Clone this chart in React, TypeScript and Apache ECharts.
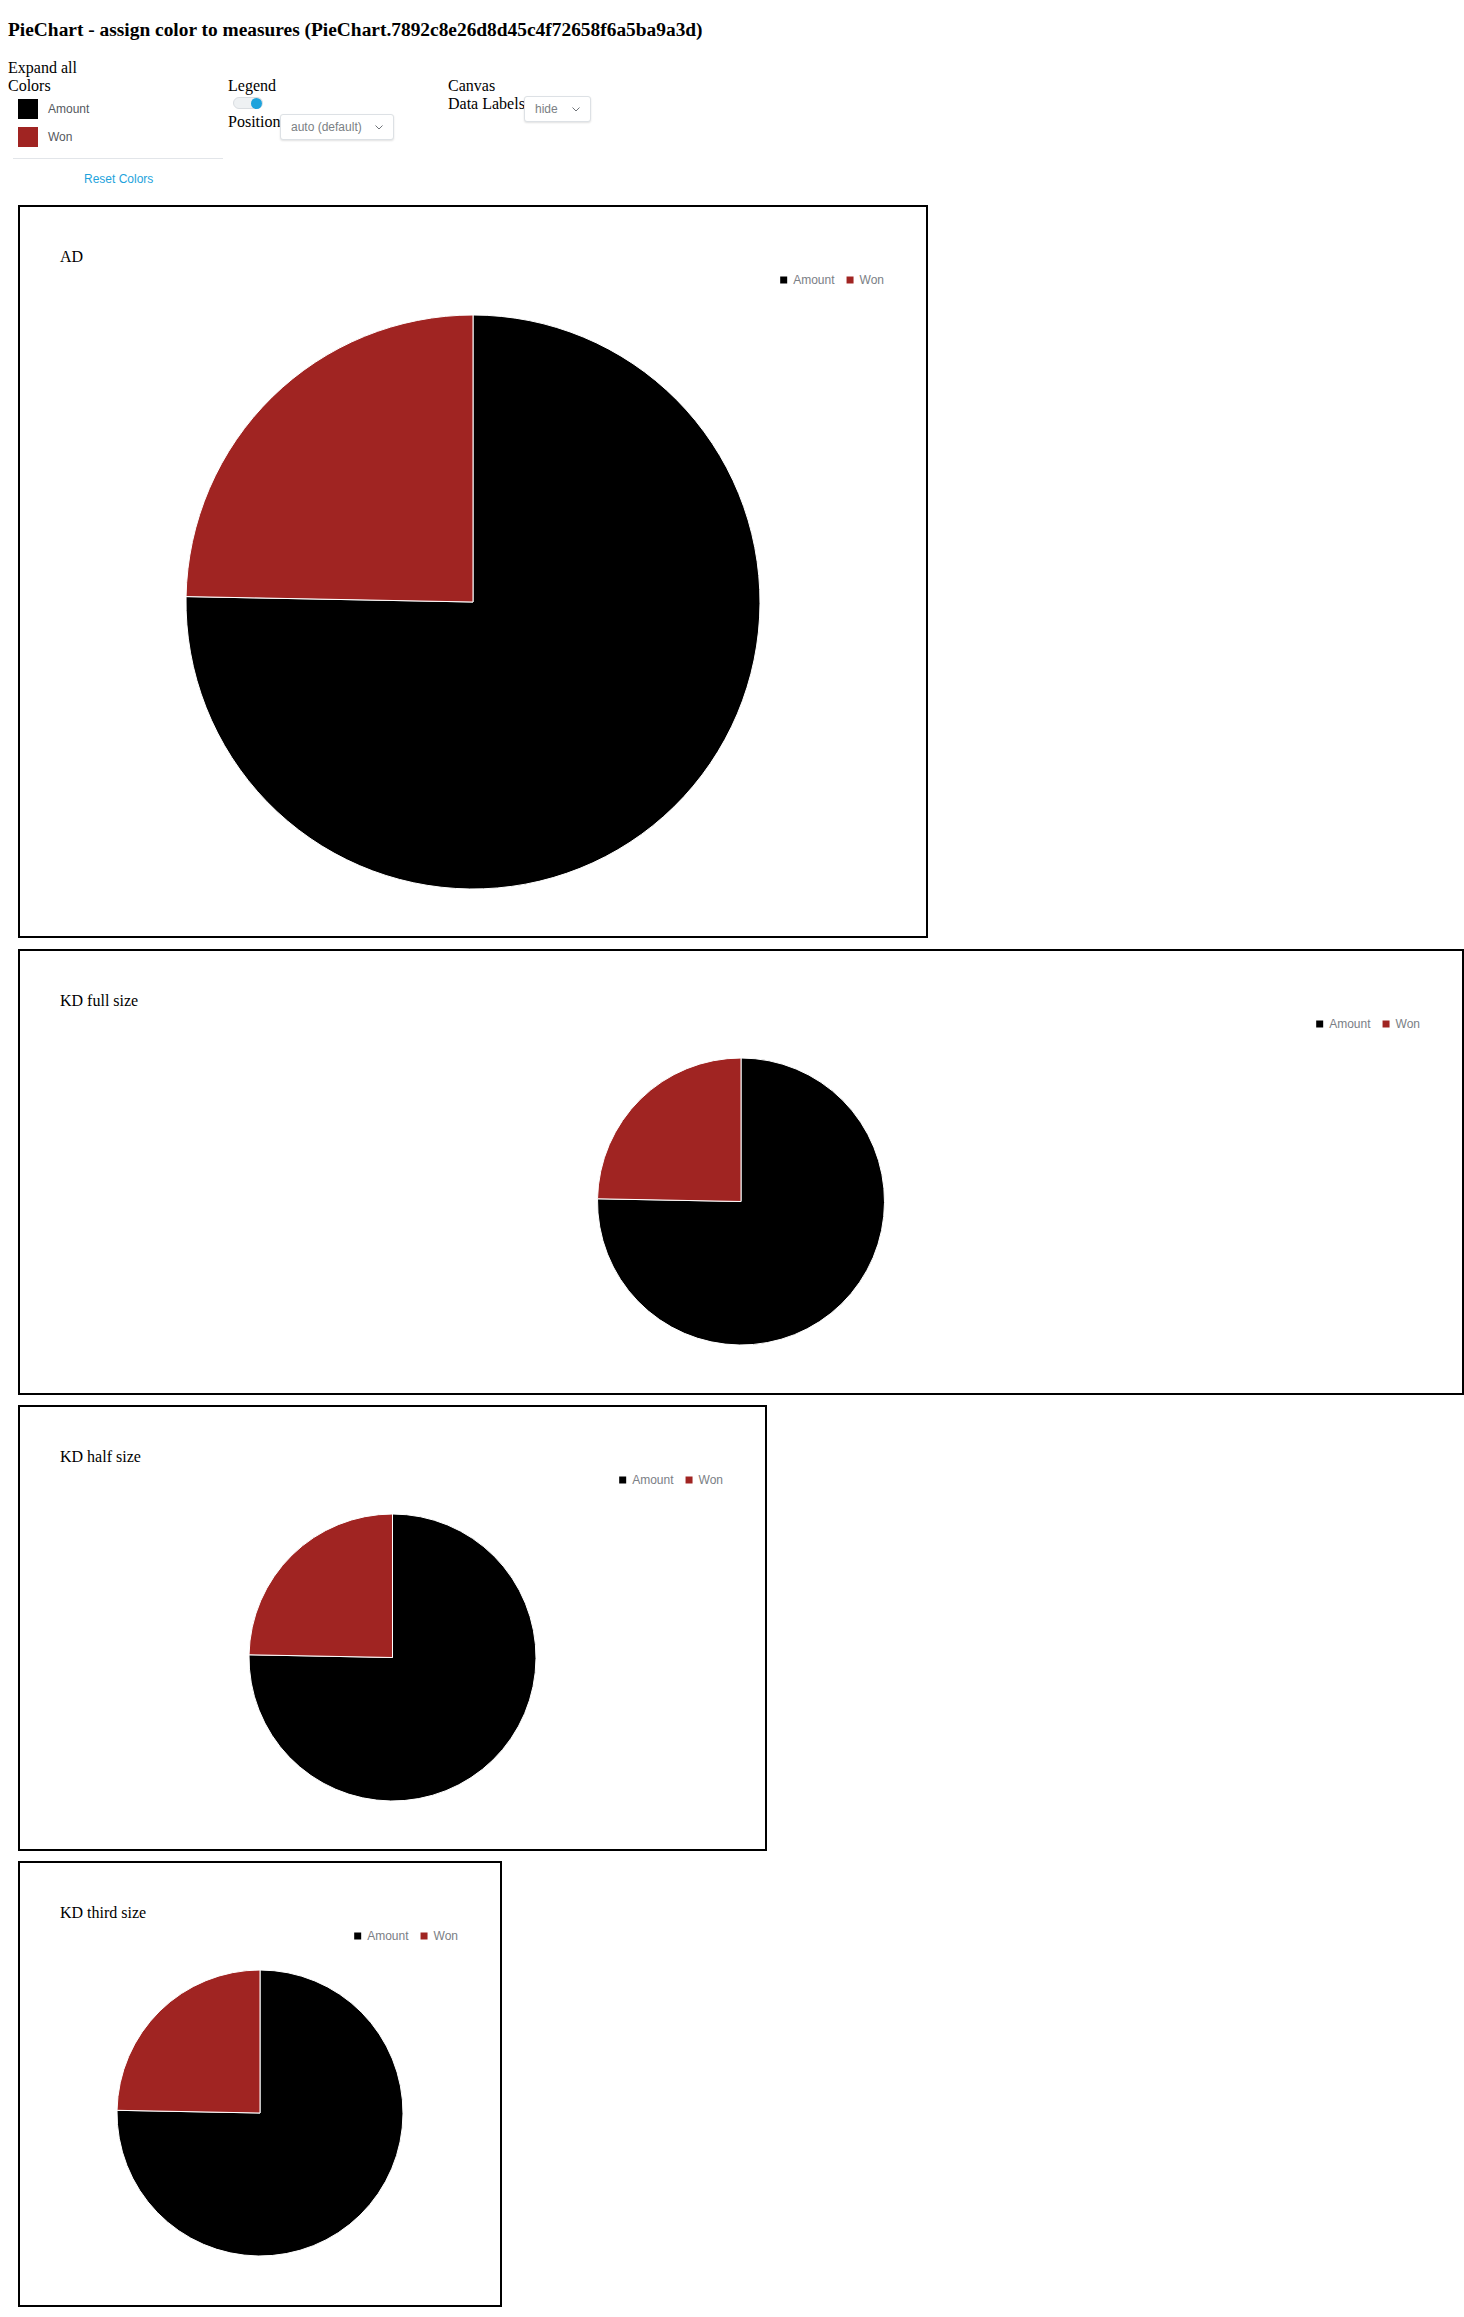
import React, { useEffect, useRef } from 'react';
import * as echarts from 'echarts';

// ---- data ----
const measures = ['Amount', 'Won'];
const measureValues = [75.3, 24.7];
const chartTitles = ['AD', 'KD full size', 'KD half size', 'KD third size'];
const legendPositionOptions = ['auto (default)'];
const dataLabelOptions = ['hide'];
const pageTitle = 'PieChart - assign color to measures (PieChart.7892c8e26d8d45c4f72658f6a5ba9a3d)';

// ---- styles ----
const measureColors = ['#000000', '#a02422'];
const SERIF = '"Liberation Serif", "Times New Roman", serif';
const SANS = '"Liberation Sans", Arial, sans-serif';

type BoxSpec = { left: number; top: number; width: number; height: number; centerY: number; radius: number };
const boxSpecs: BoxSpec[] = [
  { left: 18, top: 205, width: 910, height: 733, centerY: 395, radius: 287 },
  { left: 18, top: 949, width: 1446, height: 446, centerY: 250.5, radius: 143.5 },
  { left: 18, top: 1405, width: 749, height: 446, centerY: 250.5, radius: 143.5 },
  { left: 18, top: 1861, width: 484, height: 446, centerY: 250, radius: 143 },
];

// page coordinates (body margin removed below)
const at = (x: number, y: number): React.CSSProperties => ({ position: 'absolute', left: x, top: y });

function PieBox({ title, spec }: { title: string; spec: BoxSpec }) {
  const ref = useRef<HTMLDivElement>(null);
  useEffect(() => {
    const chart = echarts.init(ref.current!, null, { renderer: 'svg' });
    chart.setOption({
      animation: false,
      title: {
        text: title,
        left: 40,
        top: 41,
        padding: 0,
        textStyle: { fontFamily: SERIF, fontSize: 16, fontWeight: 'normal', color: '#000' },
      },
      legend: {
        data: measures,
        icon: 'rect',
        itemWidth: 9,
        itemHeight: 9,
        itemGap: 10,
        right: 42,
        top: 67,
        padding: 0,
        selectedMode: false,
        textStyle: { fontFamily: SANS, fontSize: 12, color: '#7a7e85' },
      },
      series: [
        {
          type: 'pie',
          center: ['50%', spec.centerY],
          radius: spec.radius,
          startAngle: 90,
          clockwise: true,
          label: { show: false },
          labelLine: { show: false },
          emphasis: { disabled: true },
          itemStyle: { borderColor: '#ffffff', borderWidth: 1 },
          data: measures.map((m, i) => ({ name: m, value: measureValues[i], itemStyle: { color: measureColors[i] } })),
        },
      ],
    });
    return () => chart.dispose();
  }, [title, spec]);
  return (
    <div
      style={{
        ...at(spec.left, spec.top),
        width: spec.width,
        height: spec.height,
        border: '2px solid #000',
        boxSizing: 'border-box',
      }}
    >
      <div ref={ref} style={{ width: spec.width - 4, height: spec.height - 4 }} />
    </div>
  );
}

function Chevron() {
  return (
    <svg width="8" height="5" viewBox="0 0 8 5" style={{ display: 'block' }}>
      <polyline points="0.5,0.5 4,4 7.5,0.5" fill="none" stroke="#6f7378" strokeWidth="1" />
    </svg>
  );
}

function SelectBox({ x, y, w, text }: { x: number; y: number; w: number; text: string }) {
  return (
    <div
      style={{
        ...at(x, y),
        width: w,
        height: 26,
        boxSizing: 'border-box',
        border: '1px solid #dde1e5',
        borderRadius: 3,
        boxShadow: '0 1px 2px rgba(0,0,0,0.12)',
        background: '#fff',
        fontFamily: SANS,
        fontSize: 12,
        color: '#7b7f84',
      }}
    >
      <div style={{ position: 'absolute', left: 10, top: 5, lineHeight: '14px', whiteSpace: 'nowrap' }}>{text}</div>
      <div style={{ position: 'absolute', right: 10, top: 10 }}>
        <Chevron />
      </div>
    </div>
  );
}

const serifLine: React.CSSProperties = { fontFamily: SERIF, fontSize: 16, lineHeight: '18px', color: '#000', whiteSpace: 'nowrap' };

export default function App() {
  return (
    <div style={{ position: 'relative', width: 1464, height: 2310, fontFamily: SERIF }}>
      <style>{'html,body{margin:0;padding:0;overflow:hidden;}'}</style>
      <h3
        style={{
          ...at(8, 18.5),
          margin: 0,
          fontFamily: SERIF,
          fontSize: 19.4,
          fontWeight: 'bold',
          lineHeight: '22px',
          whiteSpace: 'nowrap',
        }}
      >
        {pageTitle}
      </h3>
      <div style={{ ...at(8, 59), ...serifLine }}>Expand all</div>
      <div style={{ ...at(8, 77), ...serifLine }}>Colors</div>
      {measures.map((m, i) => (
        <React.Fragment key={m}>
          <div style={{ ...at(17.5, 99 + i * 28), width: 20, height: 20, background: measureColors[i] }} />
          <div
            style={{
              ...at(48, 102 + i * 28),
              fontFamily: SANS,
              fontSize: 12,
              lineHeight: '14px',
              color: '#55595e',
              whiteSpace: 'nowrap',
            }}
          >
            {m}
          </div>
        </React.Fragment>
      ))}
      <div style={{ ...at(13, 158), width: 210, height: 1, background: '#e2e5e9' }} />
      <div
        style={{
          ...at(84, 172),
          fontFamily: SANS,
          fontSize: 12,
          lineHeight: '14px',
          color: '#1ea3dc',
          whiteSpace: 'nowrap',
        }}
      >
        Reset Colors
      </div>

      <div style={{ ...at(228, 77), ...serifLine }}>Legend</div>
      <div
        style={{
          ...at(233, 97),
          width: 30,
          height: 12,
          boxSizing: 'border-box',
          borderRadius: 6,
          background: '#eef1f3',
          border: '1px solid #d9dde1',
        }}
      />
      <div style={{ ...at(251, 97.5), width: 11, height: 11, borderRadius: '50%', background: '#1ea3dc' }} />
      <div style={{ ...at(228, 113), ...serifLine }}>Position</div>
      <SelectBox x={280} y={114} w={114} text={legendPositionOptions[0]} />

      <div style={{ ...at(448, 77), ...serifLine }}>Canvas</div>
      <div style={{ ...at(448, 95), ...serifLine }}>Data Labels</div>
      <SelectBox x={524} y={96} w={67} text={dataLabelOptions[0]} />

      {chartTitles.map((t, i) => (
        <PieBox key={t} title={t} spec={boxSpecs[i]} />
      ))}
    </div>
  );
}
